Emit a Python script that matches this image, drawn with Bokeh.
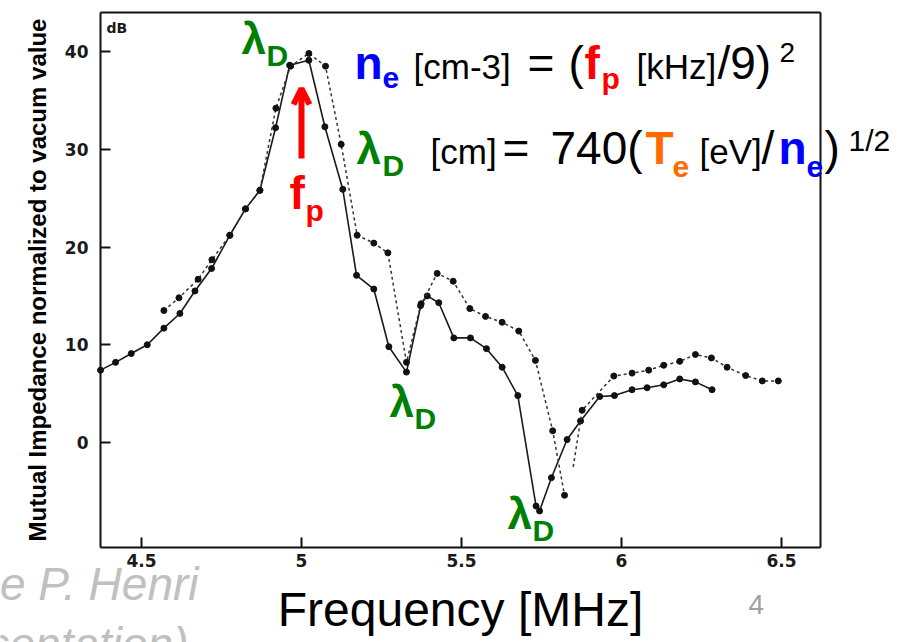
from bokeh.plotting import figure
from bokeh.models import Range1d, Label, Arrow, OpenHead, FixedTicker, LinearAxis
from bokeh.embed import file_html
from bokeh.resources import INLINE

# ---------------- data ----------------
x_ticks = [4.5, 5.0, 5.5, 6.0, 6.5]
x_tick_labels = ["4.5", "5", "5.5", "6", "6.5"]
y_ticks = [0, 10, 20, 30, 40]
y_tick_labels = ["0", "10", "20", "30", "40"]

solid_f = [4.372, 4.419, 4.468, 4.518, 4.570, 4.620, 4.667, 4.719, 4.776, 4.825,
           4.870, 4.919, 4.963, 5.023, 5.073, 5.129, 5.172, 5.226, 5.273, 5.328,
           5.374, 5.393, 5.429, 5.476, 5.528, 5.578, 5.627, 5.676, 5.733, 5.744,
           5.781, 5.830, 5.872, 5.932, 5.978, 6.033, 6.080, 6.132, 6.182, 6.231, 6.283]
solid_db = [7.4, 8.2, 9.1, 10.0, 11.7, 13.2, 15.5, 17.8, 21.2, 23.9,
            25.8, 32.2, 38.6, 39.1, 32.3, 25.9, 17.1, 15.7, 9.8, 7.2,
            14.2, 15.0, 14.3, 10.7, 10.7, 9.6, 7.7, 4.8, -6.5, -7.0,
            -3.6, 0.3, 2.2, 4.7, 4.8, 5.4, 5.6, 5.9, 6.5, 6.2, 5.4]

dotted_f_a = [4.570, 4.617, 4.677, 4.720, 4.776, 4.825, 4.870, 4.920, 4.966, 5.023,
              5.075, 5.124, 5.174, 5.226, 5.270, 5.328, 5.372, 5.424, 5.474, 5.526,
              5.575, 5.627, 5.679, 5.731, 5.785, 5.822]
dotted_db_a = [13.5, 14.8, 16.7, 18.7, 21.2, 23.9, 25.8, 34.2, 38.5, 39.8,
               38.5, 30.5, 21.2, 20.4, 19.4, 8.2, 14.0, 17.3, 16.5, 13.7,
               12.9, 12.3, 11.4, 8.4, 1.2, -5.4]

dotted_f_b = [5.849, 5.877, 5.976, 6.033, 6.085, 6.132, 6.182, 6.231, 6.281, 6.330,
              6.388, 6.440, 6.490]
dotted_db_b = [-2.5, 3.3, 6.8, 7.1, 7.4, 7.9, 8.3, 9.0, 8.65, 7.7,
               6.85, 6.3, 6.3]

# ---------------- geometry ----------------
W, H = 897, 642
PX_PER_MHZ = 320.0
PX_PER_DB = 9.775
# canvas-wide data window (frame covers the whole canvas)
CX0 = 5.0 - 301 / PX_PER_MHZ
CX1 = 5.0 + (W - 301) / PX_PER_MHZ
CY1 = 442 / PX_PER_DB
CY0 = (442 - H) / PX_PER_DB
# the drawn plot box
BX0 = 5.0 - (301 - 100) / PX_PER_MHZ
BX1 = 5.0 + (820 - 301) / PX_PER_MHZ
BY1 = (442 - 12) / PX_PER_DB
BY0 = (442 - 547) / PX_PER_DB

p = figure(width=W, height=H, output_backend="svg", toolbar_location=None,
           x_range=Range1d(CX0, CX1), y_range=Range1d(CY0, CY1),
           min_border=0, min_border_left=0, min_border_right=0,
           min_border_top=0, min_border_bottom=0)
p.background_fill_color = "white"
p.border_fill_color = "white"
p.outline_line_color = None
p.xgrid.visible = False
p.ygrid.visible = False


def px(x):
    return CX0 + x / PX_PER_MHZ


def py(y, size=0):
    # baseline correction for Bokeh label placement
    return (442 - (y - 0.39 * size)) / PX_PER_DB


xa = p.xaxis[0]
ya = p.yaxis[0]
xa.fixed_location = BY0
xa.bounds = (BX0, BX1)
ya.fixed_location = BX0
ya.bounds = (BY0, BY1)

for ax in (xa, ya):
    ax.axis_line_color = "#111111"
    ax.axis_line_width = 2
    ax.major_tick_line_color = "#111111"
    ax.major_tick_line_width = 2
    ax.major_tick_in = 10
    ax.major_tick_out = 0
    ax.minor_tick_line_color = None
    ax.major_label_text_font = "DejaVu Sans"
    ax.major_label_text_font_style = "bold"
    ax.major_label_text_font_size = "17px"
    ax.major_label_text_color = "#1a1a1a"

xa.ticker = FixedTicker(ticks=x_ticks)
xa.major_label_overrides = {t: s for t, s in zip(x_ticks, x_tick_labels)}
ya.ticker = FixedTicker(ticks=y_ticks)
ya.major_label_overrides = {t: s for t, s in zip(y_ticks, y_tick_labels)}
xa.major_label_standoff = 6
ya.major_label_standoff = 12

xa.axis_label = "Frequency [MHz]"
xa.axis_label_text_font = "Liberation Sans"
xa.axis_label_text_font_style = "normal"
xa.axis_label_text_font_size = "48px"
xa.axis_label_text_color = "black"
xa.axis_label_standoff = 13

ya.axis_label = "Mutual Impedance normalized to vacum value"
ya.axis_label_text_font = "Liberation Sans"
ya.axis_label_text_font_style = "bold"
ya.axis_label_text_font_size = "24px"
ya.axis_label_text_color = "black"
ya.axis_label_standoff = 11

# top and right edges of the plot box
top = LinearAxis(fixed_location=BY1, bounds=(BX0, BX1), ticker=FixedTicker(ticks=[]),
                 axis_line_color="#111111", axis_line_width=2,
                 major_tick_line_color=None, minor_tick_line_color=None)
right = LinearAxis(fixed_location=BX1, bounds=(BY0, BY1), ticker=FixedTicker(ticks=[]),
                   axis_line_color="#111111", axis_line_width=2,
                   major_tick_line_color=None, minor_tick_line_color=None)
p.add_layout(top, "above")
p.add_layout(right, "right")

# ---------------- curves ----------------
p.line(solid_f, solid_db, line_color="#1a1a1a", line_width=1.6)
p.scatter(solid_f, solid_db, size=6, color="#111111")

p.line(dotted_f_a, dotted_db_a, line_color="#333333", line_width=1.5, line_dash="3 3")
p.scatter(dotted_f_a, dotted_db_a, size=6, color="#111111")
p.line(dotted_f_b, dotted_db_b, line_color="#333333", line_width=1.5, line_dash="3 3")
p.scatter(dotted_f_b[1:], dotted_db_b[1:], size=6, color="#111111")

# ---------------- annotations ----------------
GREEN = "#008000"
RED = "#ff0000"
BLUE = "#0000ff"
ORANGE = "#ff6a00"


def lab(x, y, text, size, color="black", bold=False, italic=False, align="left",
        font="Liberation Sans"):
    style = "bold" if bold else "normal"
    if italic:
        style = "bold italic" if bold else "italic"
    p.add_layout(Label(x=px(x), y=py(y, size), text=text, text_font=font,
                       text_font_size=f"{size}px", text_font_style=style,
                       text_color=color, text_align=align,
                       text_baseline="alphabetic"))


lab(106, 33, "dB", 14, "#1a1a1a", bold=True, font="DejaVu Sans")

# lambda_D markers on the curve
for (lx, ly) in [(241, 55), (389, 418), (507, 530)]:
    lab(lx, ly, "λ", 44, GREEN, bold=True)
    lab(lx + 25, ly + 12, "D", 30, GREEN, bold=True)

# plasma frequency arrow and label
p.add_layout(Arrow(end=OpenHead(line_color=RED, line_width=6, size=16),
                   x_start=px(301), y_start=py(158), x_end=px(301), y_end=py(88),
                   line_color=RED, line_width=6))
lab(289, 210, "f", 46, RED, bold=True)
lab(305, 222, "p", 30, RED, bold=True)

# formula line 1
lab(354, 80, "n", 46, BLUE, bold=True)
lab(382, 89, "e", 30, BLUE, bold=True)
lab(413, 80, "[cm-3]", 35)
lab(527, 80, "=", 46)
lab(568, 80, "(", 46)
lab(584, 80, "f", 46, RED, bold=True)
lab(601, 90, "p", 30, RED, bold=True)
lab(636, 80, "[kHz]", 35)
lab(717, 80, "/9)", 46)
lab(779, 63, "2", 28)

# formula line 2
lab(356, 165, "λ", 44, GREEN, bold=True)
lab(382, 177, "D", 30, GREEN, bold=True)
lab(430, 165, "[cm]", 35)
lab(502, 165, "=", 46)
lab(550, 165, "740(", 46)
lab(645, 165, "T", 46, ORANGE, bold=True)
lab(672, 178, "e", 30, ORANGE, bold=True)
lab(699, 165, "[eV]", 35)
lab(761, 165, "/", 46)
lab(778, 165, "n", 46, BLUE, bold=True)
lab(806, 178, "e", 30, BLUE, bold=True)
lab(824, 165, ")", 46)
lab(848, 152, "1/2", 30)

# slide remnants
lab(198, 601, "e P. Henri", 46, "#c0c0c0", italic=True, align="right")
lab(188, 661, "presentation)", 46, "#c0c0c0", italic=True, align="right")
lab(748, 615, "4", 28, "#a0a0a0")

open("out.html", "w").write(file_html(p, INLINE))
